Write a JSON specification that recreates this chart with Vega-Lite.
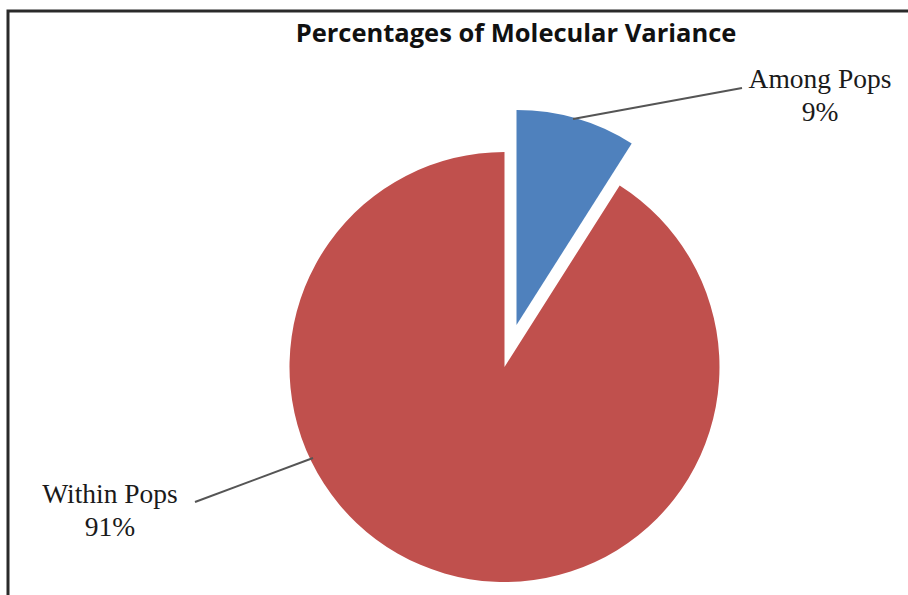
{
  "$schema": "https://vega.github.io/schema/vega-lite/v6.json",
  "autosize": {"type": "none"},
  "padding": {"left": 8, "top": 11, "right": 0, "bottom": 0},
  "width": 910,
  "height": 600,
  "background": "white",
  "title": {
    "text": "Percentages of Molecular Variance",
    "font": "Open Sans",
    "fontSize": 25.5,
    "fontWeight": "bold",
    "color": "#111111",
    "anchor": "middle",
    "dx": 53,
    "baseline": "alphabetic",
    "offset": -56
  },
  "config": {
    "view": {"stroke": "#2a2a2a", "strokeWidth": 3},
    "axis": {"domain": false, "grid": false, "ticks": false, "labels": false, "title": null}
  },
  "datasets": {
    "slices": [
      {"category": "Among Pops", "value": 9},
      {"category": "Within Pops", "value": 91}
    ],
    "labels": [
      {"category": "Among Pops", "text": "Among Pops\n9%", "lx": 1.4674, "ly": 1.2977},
      {"category": "Within Pops", "text": "Within Pops\n91%", "lx": -1.8349, "ly": -0.6326}
    ],
    "leaders": [
      {"category": "Among Pops", "x1": 0.3186, "y1": 1.1535, "x2": 1.1047, "y2": 1.2977},
      {"category": "Within Pops", "x1": -1.4395, "y1": -0.6279, "x2": -0.8907, "y2": -0.4233}
    ]
  },
  "layer": [
    {
      "data": {"name": "slices"},
      "transform": [
        {"stack": "value", "groupby": [], "sort": [{"field": "category", "order": "ascending"}], "as": ["v0", "v1"]},
        {"filter": "datum.category === 'Within Pops'"}
      ],
      "mark": {"type": "arc", "outerRadius": 215, "color": "#C0504D"},
      "encoding": {
        "x": {"datum": 0, "type": "quantitative", "scale": {"domain": [-2.3093, 1.9233], "nice": false, "zero": false}, "axis": null},
        "y": {"datum": 0, "type": "quantitative", "scale": {"domain": [-1.1349, 1.6558], "nice": false, "zero": false}, "axis": null},
        "theta": {"field": "v0", "type": "quantitative", "scale": {"domain": [0, 100]}},
        "theta2": {"field": "v1"}
      }
    },
    {
      "data": {"name": "slices"},
      "transform": [
        {"stack": "value", "groupby": [], "sort": [{"field": "category", "order": "ascending"}], "as": ["v0", "v1"]},
        {"filter": "datum.category === 'Among Pops'"}
      ],
      "mark": {"type": "arc", "outerRadius": 215, "color": "#4F81BD", "xOffset": 12, "yOffset": -42},
      "encoding": {
        "x": {"datum": 0, "type": "quantitative"},
        "y": {"datum": 0, "type": "quantitative"},
        "theta": {"field": "v0", "type": "quantitative"},
        "theta2": {"field": "v1"}
      }
    },
    {
      "data": {"name": "leaders"},
      "mark": {"type": "rule", "color": "#555555", "strokeWidth": 2},
      "encoding": {
        "x": {"field": "x1", "type": "quantitative"},
        "y": {"field": "y1", "type": "quantitative"},
        "x2": {"field": "x2"},
        "y2": {"field": "y2"}
      }
    },
    {
      "data": {"name": "labels"},
      "mark": {"type": "text", "font": "Liberation Serif", "fontSize": 27.5, "color": "#1a1a1a", "align": "center", "baseline": "alphabetic", "lineBreak": "\n", "lineHeight": 33},
      "encoding": {
        "x": {"field": "lx", "type": "quantitative"},
        "y": {"field": "ly", "type": "quantitative"},
        "text": {"field": "text", "type": "nominal"}
      }
    }
  ]
}
